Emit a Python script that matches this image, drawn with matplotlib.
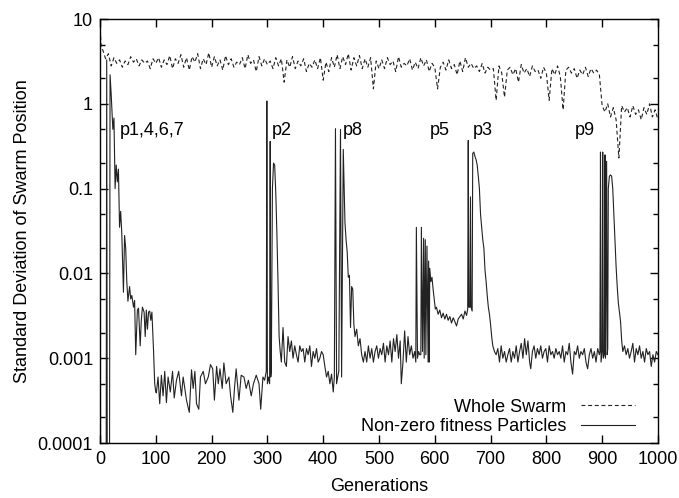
import matplotlib
matplotlib.use("Agg")
import matplotlib.pyplot as plt
from matplotlib.ticker import FixedLocator, FixedFormatter, NullFormatter

plt.rcParams['font.family'] = ['Liberation Sans', 'DejaVu Sans']

# whole swarm: std deviation of all particle positions
ws_gen = [0, 2] + list(range(5, 1001, 5))
ws_val = [9.0, 4.6,
          4.3, 3.4, 3.9, 2.8, 3.5, 3.0, 3.3, 2.7, 3.2, 2.9, 3.6, 3.1, 3.4, 2.8, 3.3, 3.0, 3.2, 2.6, 3.4, 3.0,
          3.5, 2.7, 3.3, 2.9, 3.7, 2.6, 3.4, 3.0, 3.8, 2.7, 3.5, 2.5, 3.6, 3.1, 3.9, 2.6, 3.4, 2.9, 4.0, 2.7,
          3.6, 2.8, 3.3, 2.5, 3.7, 2.9, 3.4, 2.7, 3.1, 2.9, 3.5, 2.6, 3.8, 3.0, 3.3, 2.4, 3.6, 2.8, 3.4, 2.9,
          3.2, 2.6, 3.5, 2.8, 3.4, 1.8, 3.3, 2.7, 3.6, 2.6, 3.2, 2.8, 3.4, 2.4, 3.0, 2.7, 3.3, 2.6, 3.5, 1.9,
          3.1, 2.4, 3.5, 2.7, 3.8, 2.6, 3.6, 2.9, 3.9, 2.5, 3.5, 2.8, 3.7, 2.6, 3.4, 2.7, 3.5, 1.5, 3.2, 2.6,
          3.3, 2.6, 3.5, 2.9, 3.2, 2.4, 3.6, 2.7, 3.0, 2.8, 3.4, 2.5, 3.1, 2.6, 3.5, 2.8, 3.3, 2.4, 3.0, 2.7,
          1.5, 2.7, 3.1, 2.5, 3.3, 2.6, 2.9, 2.2, 3.2, 2.4, 3.5, 2.7, 3.0, 2.6, 2.8, 2.4, 3.0, 2.3, 2.7, 2.5,
          2.6, 1.1, 2.8, 2.3, 1.2, 2.5, 2.7, 2.2, 2.6, 1.8, 2.9, 2.3, 2.6, 2.1, 2.8, 2.4, 2.5, 2.0, 2.7, 2.3,
          1.1, 2.6, 2.2, 2.8, 2.1, 0.85, 2.5, 2.7, 2.3, 2.6, 2.0, 2.5, 2.2, 2.7, 2.1, 2.6, 2.3, 2.5, 2.2, 0.95,
          0.8, 1.0, 0.7, 0.9, 0.65, 0.23, 0.95, 0.8, 0.9, 0.7, 0.95, 0.75, 0.85, 0.65, 0.9, 0.75, 1.0, 0.7, 0.85, 0.65]

# particles with non-zero fitness
nz_gen = [0, 1, 11, 12, 13, 17, 18, 20, 23, 25, 27, 29, 31, 33, 35, 37, 39, 42, 44, 46, 48, 50, 53,
          55, 57, 60, 62, 64, 67, 69, 72, 74, 76, 79, 81, 83, 85, 87, 89, 91, 93, 96, 98, 100,
          101, 104, 107, 110, 113, 116, 119, 122, 126, 130, 133, 137, 141, 146, 149, 155, 160, 164,
          167, 170, 173, 177, 180, 185, 189, 194, 198, 202, 205, 209, 212, 215, 219, 222, 226, 231,
          234, 238, 241, 244, 249, 253, 258, 262, 266, 271, 275, 280, 285, 288, 292, 295, 298,
          299, 300, 302, 304, 305, 306, 307, 309, 311, 313, 315, 317, 319, 321, 323, 325,
          328, 331, 334, 337, 340, 343, 346, 349, 352, 355, 358, 361, 364, 367, 370, 373, 376, 379,
          382, 385, 388, 391, 394, 397, 400, 403, 406, 409, 412, 415, 418, 420,
          422, 424, 426, 428, 431, 433, 436, 438, 439, 441, 443, 445, 447, 449, 451, 453, 455, 457,
          460, 463, 466, 469, 472,
          475, 478, 481, 484, 487, 490, 493, 496, 499, 502, 505, 508, 511, 514, 517, 520, 523, 526,
          529, 532, 535, 538, 540, 543, 546, 549, 552, 555, 558, 561, 564,
          566, 567, 569, 571, 573, 575, 576, 578, 580, 581, 583, 584, 586, 588, 589, 590, 591, 593,
          595, 597, 599, 601,
          603, 606, 609, 612, 615, 618, 621, 624, 627, 630, 633, 636, 639, 642, 645, 648, 651, 654,
          657, 659,
          660, 661, 663, 664, 665, 667, 668, 670, 672, 674, 676, 678, 680, 682, 684, 686, 688, 690,
          692, 694, 696, 698, 700, 702, 704, 707,
          710, 713, 716, 719, 722, 725, 728, 731, 734, 737, 740, 743, 746, 749, 752, 755, 758, 761,
          764, 767, 770, 772, 775, 778, 781, 784, 787, 790, 793, 796, 799, 802, 805, 808, 811, 814,
          817, 820, 823, 826, 829, 832, 835, 838, 841, 844, 847, 850, 853, 856, 859, 862, 865, 868,
          871, 874, 877, 880, 883, 886, 889, 892, 895,
          896, 897, 898, 900, 901, 902, 904, 905, 906, 908, 909, 910, 911, 913, 915, 917, 919, 921,
          923, 925, 927, 929, 931, 933, 935, 937,
          940, 943, 946, 949, 952, 955, 958, 961, 964, 967, 970, 973, 976, 979, 982, 985, 988, 991,
          994, 997, 1000]
nz_val = [9.5, 3e-5, 3e-5, 3.3, 3e-5, 3e-5, 2.2, 1.3, 0.5, 0.68, 0.1, 0.19, 0.12, 0.17, 0.035, 0.054,
          0.03, 0.006, 0.028, 0.02, 0.008, 0.0047, 0.007, 0.005, 0.0055, 0.004, 0.0048, 0.0011,
          0.0037, 0.0039, 0.0014, 0.0028, 0.004, 0.0035, 0.0018, 0.0037, 0.0022, 0.0035, 0.0036,
          0.0028, 0.0035, 0.0012, 0.0005, 0.0004,
          0.00039, 0.0006, 0.00029, 0.00063, 0.00036, 0.0007, 0.0003, 0.0006, 0.0004, 0.0007, 0.00034,
          0.00055, 0.0007, 0.00036, 0.0006, 0.00032, 0.00023, 0.00073, 0.00044, 0.0007, 0.00029,
          0.00025, 0.0006, 0.0007, 0.0005, 0.0006, 0.00084, 0.00075, 0.00032, 0.0008, 0.0005,
          0.00075, 0.00044, 0.00088, 0.0005, 0.0006, 0.00036, 0.00023, 0.00044, 0.00075, 0.00032,
          0.00063, 0.0006, 0.00044, 0.00055, 0.00036, 0.0005, 0.00063, 0.0005, 0.00025, 0.0006,
          0.00055, 0.0007,
          1.08, 0.0005, 0.0006, 0.0005, 0.36, 0.0006, 0.0007, 0.1, 0.2, 0.19, 0.09, 0.03, 0.008,
          0.0018, 0.0012, 0.0009,
          0.0023, 0.0009, 0.0008, 0.0018, 0.0012, 0.0016, 0.001, 0.0014, 0.0011, 0.0009, 0.0014,
          0.0012, 0.0013, 0.0009, 0.0013, 0.0011, 0.0014, 0.0008, 0.0012, 0.001, 0.0013, 0.0009,
          0.001, 0.0012, 0.0011, 0.0008, 0.0006, 0.0007, 0.0005, 0.00065, 0.0004, 0.0006,
          0.51, 0.0005, 0.0006, 0.0007, 0.5, 0.0006, 0.29, 0.08, 0.04, 0.025, 0.018, 0.009, 0.0095,
          0.0023, 0.007, 0.0065, 0.0025, 0.0018, 0.0022, 0.0014, 0.0017, 0.0011, 0.0009,
          0.0012, 0.0009, 0.0014, 0.001, 0.0013, 0.0009, 0.0012, 0.0014, 0.001, 0.0013, 0.0011,
          0.0015, 0.0009, 0.0014, 0.0011, 0.0016, 0.0009, 0.0017, 0.0012, 0.0019, 0.001, 0.0016,
          0.0005, 0.0009, 0.0021, 0.0009, 0.0018, 0.0011, 0.0014, 0.001, 0.0012,
          0.0009, 0.035, 0.001, 0.0012, 0.0011, 0.0011, 0.035, 0.0012, 0.026, 0.001, 0.025, 0.0011,
          0.021, 0.0009, 0.014, 0.0009, 0.0115, 0.008, 0.009, 0.0065, 0.005, 0.0038,
          0.004, 0.0033, 0.0037, 0.003, 0.0034, 0.0029, 0.0033, 0.0028, 0.0031, 0.0026, 0.003,
          0.0027, 0.0024, 0.0029, 0.0031, 0.0033, 0.0029, 0.0036, 0.0032, 0.0038,
          0.37, 0.004, 0.004, 0.08, 0.004, 0.0036, 0.26, 0.27, 0.24, 0.22, 0.19, 0.14, 0.1, 0.05,
          0.035, 0.025, 0.02, 0.011, 0.008, 0.0055, 0.004, 0.0033, 0.0025, 0.0018, 0.0014, 0.0012,
          0.0011, 0.0013, 0.0009, 0.0014, 0.001, 0.0012, 0.0009, 0.0011, 0.0013, 0.0009, 0.0012,
          0.001, 0.0014, 0.0009, 0.0012, 0.0015, 0.001, 0.0017, 0.0011, 0.0016, 0.0009, 0.00075,
          0.0012, 0.0014, 0.001, 0.0013, 0.0011, 0.0014, 0.001, 0.0012, 0.0013, 0.0009, 0.0014,
          0.0011, 0.0012, 0.001, 0.0013, 0.0011, 0.0012, 0.001, 0.0014, 0.0009, 0.0012, 0.0011,
          0.0015, 0.0009, 0.00065, 0.0012, 0.0011, 0.0014, 0.001, 0.0012, 0.0011, 0.0013, 0.0009,
          0.00075, 0.0011, 0.0013, 0.001, 0.0012, 0.0009, 0.0013, 0.0011,
          0.0012, 0.27, 0.0009, 0.0012, 0.27, 0.001, 0.0011, 0.25, 0.001, 0.21, 0.0011, 0.0013,
          0.1, 0.14, 0.145, 0.14, 0.1, 0.05, 0.025, 0.012, 0.007, 0.0045, 0.0035, 0.0027, 0.0016,
          0.0012,
          0.0014, 0.0011, 0.0013, 0.001, 0.0012, 0.0015, 0.0009, 0.0013, 0.0011, 0.0014, 0.001,
          0.0012, 0.0009, 0.0013, 0.0011, 0.0012, 0.0008, 0.0011, 0.0009, 0.0012, 0.0011]

peak_labels = ["p1,4,6,7", "p2", "p8", "p5", "p3", "p9"]
peak_gens = [36, 308, 436, 591, 668, 851]
peak_level = 0.48

y_ticks = [0.0001, 0.001, 0.01, 0.1, 1, 10]
y_tick_labels = ["0.0001", "0.001", "0.01", "0.1", "1", "10"]
x_ticks = list(range(0, 1001, 100))

fig = plt.figure(figsize=(6.79, 4.98), dpi=100)
ax = fig.add_axes([0.1473, 0.1104, 0.8217, 0.8514])

ax.plot(ws_gen, ws_val, color='#222222', lw=0.8, ls=(0, (3.5, 2.5)), label='Whole Swarm')
ax.plot(nz_gen, nz_val, color='#222222', lw=0.8, label='Non-zero fitness Particles')

ax.set_yscale('log')
ax.set_xlim(0, 1000)
ax.set_ylim(0.0001, 10)
ax.yaxis.set_major_locator(FixedLocator(y_ticks))
ax.yaxis.set_major_formatter(FixedFormatter(y_tick_labels))
minors = [m * 10.0 ** e for e in range(-4, 1) for m in (2, 5)]
ax.yaxis.set_minor_locator(FixedLocator(minors))
ax.yaxis.set_minor_formatter(NullFormatter())
ax.set_xticks(x_ticks)

ax.tick_params(which='both', direction='in', top=True, right=True, labelsize=13)
ax.tick_params(axis='x', pad=6)
ax.tick_params(axis='y', pad=5)
ax.tick_params(which='major', length=6, width=1)
ax.tick_params(which='minor', length=3.5, width=1)
for s in ax.spines.values():
    s.set_linewidth(1)

for lab, g in zip(peak_labels, peak_gens):
    ax.text(g, peak_level, lab, fontsize=13, ha='left', va='center')

ax.set_xlabel('Generations', fontsize=13, labelpad=7)
ax.set_ylabel('Standard Deviation of Swarm Position', fontsize=13, labelpad=5)

ax.legend(loc='lower right', bbox_to_anchor=(0.988, -0.02), frameon=False, fontsize=13,
          markerfirst=False, handlelength=3.0, handletextpad=0.8, labelspacing=0.15)

fig.savefig('out.png', dpi=100)
